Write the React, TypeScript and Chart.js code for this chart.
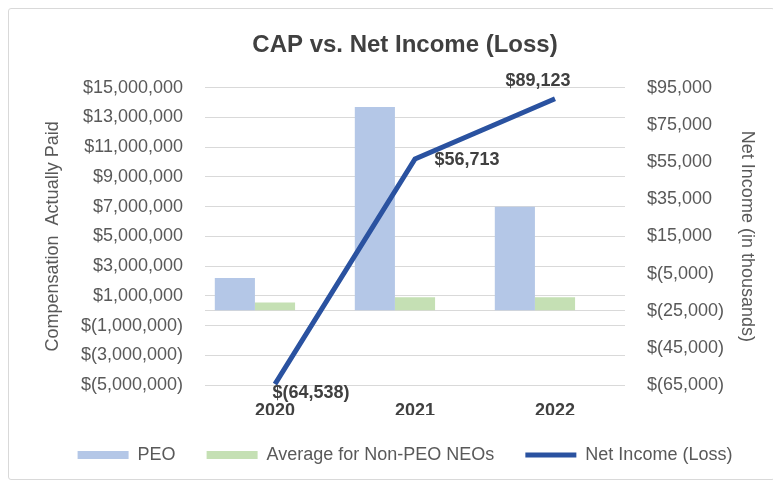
import React, { useEffect, useRef } from 'react';
import { Chart, registerables } from 'chart.js';

Chart.register(...registerables);

// ---- data ----
const categories = ['2020', '2021', '2022'];
const peoValues = [2200000, 13700000, 7000000];
const nonPeoValues = [550000, 900000, 900000];
const netIncomeValues = [-64538, 56713, 89123];

const leftMin = -5000000;
const leftMax = 15000000;
const leftStep = 2000000;
const rightMin = -65000;
const rightMax = 95000;
const rightStep = 20000;

const seriesNames = ['PEO', 'Average for Non-PEO NEOs', 'Net Income (Loss)'];
const chartTitle = 'CAP vs. Net Income (Loss)';
const leftTitle = 'Compensation  Actually Paid';
const rightTitle = 'Net Income (in thousands)';

// label placement relative to each line point (dx, dy)
const labelOffsets = [
  [36, 9],
  [52, 1],
  [-17, -18],
];

const FONT = '"Liberation Sans", Arial, sans-serif';
const GREY = '#595959';
const DARK = '#404040';

const fmt = (v: number) =>
  v < 0
    ? `$(${Math.abs(v).toLocaleString('en-US')})`
    : `$${v.toLocaleString('en-US')}`;

const labelPlugin = {
  id: 'netIncomeLabels',
  afterDatasetsDraw(chart: any) {
    const meta = chart.getDatasetMeta(3);
    const ctx = chart.ctx;
    ctx.save();
    ctx.font = `bold 18px ${FONT}`;
    ctx.fillStyle = DARK;
    ctx.textAlign = 'center';
    ctx.textBaseline = 'middle';
    meta.data.forEach((pt: any, i: number) => {
      ctx.fillText(
        fmt(netIncomeValues[i]),
        pt.x + labelOffsets[i][0],
        pt.y + labelOffsets[i][1]
      );
    });
    ctx.restore();
  },
};

export default function App() {
  const ref = useRef<HTMLCanvasElement>(null);

  useEffect(() => {
    if (!ref.current) return;
    const chart = new Chart(ref.current, {
      type: 'bar',
      data: {
        labels: categories,
        datasets: [
          {
            type: 'bar',
            label: seriesNames[0],
            data: peoValues,
            backgroundColor: '#B4C7E7',
            borderWidth: 0,
            yAxisID: 'y',
            order: 1,
            pointStyle: 'rect',
            categoryPercentage: 0.86,
            barPercentage: 1.0,
          } as any,
          {
            type: 'bar',
            label: seriesNames[1],
            data: nonPeoValues,
            backgroundColor: '#C5E0B4',
            borderWidth: 0,
            yAxisID: 'y',
            order: 1,
            pointStyle: 'rect',
            categoryPercentage: 0.86,
            barPercentage: 1.0,
          } as any,
          {
            type: 'bar',
            label: '',
            data: [null, null, null],
            backgroundColor: 'rgba(0,0,0,0)',
            borderWidth: 0,
            yAxisID: 'y',
            order: 1,
            categoryPercentage: 0.86,
            barPercentage: 1.0,
          } as any,
          {
            type: 'line',
            label: seriesNames[2],
            data: netIncomeValues,
            borderColor: '#2A52A0',
            backgroundColor: '#2A52A0',
            borderWidth: 5,
            pointRadius: 0,
            pointStyle: 'line',
            tension: 0,
            yAxisID: 'y1',
            order: 0,
          } as any,
        ],
      },
      options: {
        animation: false,
        responsive: true,
        maintainAspectRatio: false,
        layout: { padding: { left: 27, right: 0, top: 0, bottom: 5 } },
        plugins: {
          tooltip: { enabled: false },
          title: {
            display: true,
            text: chartTitle,
            color: DARK,
            font: { family: FONT, size: 24, weight: 'bold' },
            padding: { top: 22, bottom: 28 },
          },
          legend: {
            position: 'bottom',
            labels: {
              color: GREY,
              font: { family: FONT, size: 18 },
              usePointStyle: true,
              pointStyleWidth: 51,
              boxHeight: 8,
              padding: 31,
              filter: (item: any) => item.datasetIndex !== 2,
              sort: (a: any, b: any) => a.datasetIndex - b.datasetIndex,
            },
          },
        },
        scales: {
          x: {
            grid: { display: false },
            border: { display: false },
            ticks: {
              color: DARK,
              font: { family: FONT, size: 18, weight: 'bold' },
              padding: 7,
            },
            afterFit: (s: any) => {
              s.height = 30;
            },
          },
          y: {
            position: 'left',
            min: leftMin,
            max: leftMax,
            grid: { color: '#d9d9d9', lineWidth: 1, drawTicks: false },
            border: { display: false },
            ticks: {
              stepSize: leftStep,
              autoSkip: false,
              color: GREY,
              font: { family: FONT, size: 18 },
              padding: 22,
              callback: (v: any) => (v === 0 ? '' : fmt(Number(v))),
            },
            afterBuildTicks: (s: any) => {
              s.ticks = [...s.ticks, { value: 0 }].sort(
                (a: any, b: any) => a.value - b.value
              );
            },
            title: {
              display: true,
              text: leftTitle,
              color: GREY,
              font: { family: FONT, size: 18 },
              padding: { top: 6, bottom: 0 },
            },
            afterFit: (s: any) => {
              s.width = 169;
            },
          },
          y1: {
            position: 'right',
            min: rightMin,
            max: rightMax,
            grid: { display: false, drawTicks: false },
            border: { display: false },
            ticks: {
              stepSize: rightStep,
              autoSkip: false,
              color: GREY,
              font: { family: FONT, size: 18 },
              padding: 22,
              callback: (v: any) => fmt(Number(v)),
            },
            title: {
              display: true,
              text: rightTitle,
              color: GREY,
              font: { family: FONT, size: 18 },
              padding: { top: 16, bottom: 0 },
            },
            afterFit: (s: any) => {
              s.width = 149;
            },
          },
        },
      } as any,
      plugins: [labelPlugin],
    });
    return () => chart.destroy();
  }, []);

  return (
    <div
      style={{
        width: 765,
        height: 470,
        border: '1px solid #d9d9d9',
        borderRadius: 3,
        position: 'relative',
        background: '#fff',
      }}
    >
      <canvas ref={ref} style={{ width: '100%', height: '100%' }} />
    </div>
  );
}
